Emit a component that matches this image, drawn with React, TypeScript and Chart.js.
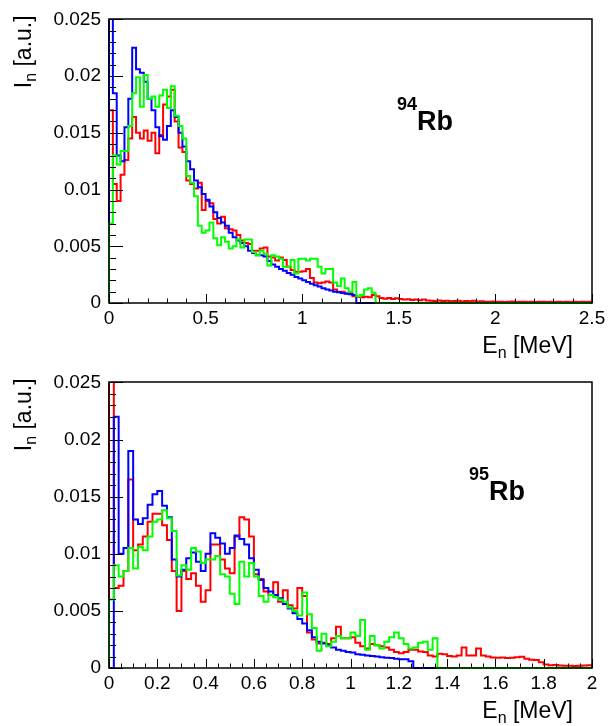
import React, { useEffect, useRef } from "react";
import { Chart, registerables } from "chart.js";

Chart.register(...registerables);

// ---------- data (intensities in units of 1e-3 a.u., histogram bins of 0.02 MeV) ----------
const VALUE_UNIT = 0.001;
const BIN_WIDTH = 0.02;

// 94Rb panel
const rb94Red = [
  17, 10.5, 9, 11.3, 12.6, 14.5, 16.4, 15, 14.5, 15.2, 14.3, 15, 13.2, 14.8, 17.5, 18.2, 18.8, 16, 13.7, 13.3,
  10.8, 10.5, 10.1, 10.6, 8.2, 9, 8.8, 7.4, 7.0, 7.6, 6.6,
  6.5, 6.4, 6.0, 5.5, 5.3, 5.2, 4.6, 4.6, 4.8, 4.9, 4.1, 4.0, 3.75, 4.0, 3.8, 3.2, 2.9, 2.75, 2.75, 2.8,
  3.0, 2.2, 1.8, 1.75, 1.8, 1.9, 1.8, 1.2, 1.0, 1.0, 0.85, 0.85, 0.6, 0.55, 0.5, 0.55, 0.5, 0.7, 0.6,
  0.45, 0.38, 0.45, 0.35, 0.42, 0.36,
  0.3, 0.33, 0.27, 0.3, 0.24, 0.3, 0.22,
  0.2, 0.18, 0.22, 0.17, 0.2, 0.15, 0.18, 0.2, 0.14, 0.17, 0.15, 0.2, 0.13, 0.15,
  0.12, 0.1, 0.14, 0.1, 0.12, 0.09, 0.11, 0.13, 0.08, 0.1, 0.12, 0.09, 0.1, 0.08, 0.11, 0.1, 0.09, 0.12,
  0.08, 0.1, 0.09, 0.11, 0.08, 0.1, 0.09, 0.1, 0.08, 0.1,
];
const rb94Blue = [
  26, 18.5, 13, 12.5, 15.5, 18, 22.5, 20.6, 20.3, 19.5,
  18, 17, 15.5, 14.7, 14.4, 15.6, 17, 16.4, 15, 13.8,
  12.5, 11.8, 10.8, 10.2, 9.6, 9.1, 8.5, 8.0, 7.5, 7.1,
  6.8, 6.2, 5.8, 5.5, 5.3, 5.0, 4.6, 4.4, 4.2, 4.2,
  4.1, 3.7, 3.4, 3.2, 3.0, 2.85, 2.65, 2.5, 2.3, 2.15,
  2.0, 1.85, 1.7, 1.57, 1.45, 1.3, 1.2, 1.1, 1.0, 0.95,
  0.88, 0.82, 0.78, 0.7,
];
const rb94Green = [
  7, 13, 12.2, 13.4, 13.4, 15.6, 18.5, 19.9, 17.3, 20.1,
  18, 18.2, 17.3, 18.3, 18.8, 17.2, 19.1, 16.5, 15.6, 14.5,
  11.2, 10.6, 9.4, 6.8, 6.2, 6.4, 7.1, 5.7, 5.1, 5.8,
  5.4, 4.8, 5.0, 5.6, 4.9, 5.6, 5.6, 4.5, 4.2, 4.6,
  4.35, 3.3, 4.2, 4.1, 3.9, 3.2, 3.2, 3.8, 2.6, 3.9,
  3.9, 3.75, 3.9, 3.9, 3.2, 2.6, 3.0, 3.0, 1.8, 1.5,
  2.15, 1.3, 1.0, 1.85, 0.6, 0.7, 1.2, 1.3, 0.9,
];

// 95Rb panel
const rb95Red = [
  26, 7, 7.2, 8.5, 16.5, 10.3, 10.8, 11.5, 12.8, 13.5, 13.5, 12.5, 11.2, 8.5, 5.0, 8.5, 7.8, 8.3, 7.2, 5.8,
  6.8, 10.8, 10.8, 9.5,
  8.7, 8.3, 11.5, 13.2, 13, 11.5, 8.2, 7.8, 6.7, 6.4, 7.5, 5.8, 6.8, 5.5, 5.2, 7.0, 6.3, 3.1, 2.5, 2.15,
  2.2, 2.1, 2.6, 3.6, 2.6, 2.6, 2.7, 2.2, 1.9, 1.7,
  2.1, 2.0, 1.9, 1.8, 1.6, 1.4, 1.3, 1.4, 1.6, 1.6, 1.45, 1.4, 1.1, 1.0, 1.25, 1.2, 1.05, 1.0, 1.1, 1.8,
  1.1, 1.1, 1.7, 1.1, 1.0, 0.93, 0.9, 0.92, 0.88, 0.9, 0.95, 0.99, 0.8, 0.72, 0.7, 0.5, 0.3, 0.25, 0.26, 0.22,
  0.2, 0.2, 0.18, 0.2, 0.22, 0.25,
];
const rb95Blue = [
  0, 22, 10, 10.5, 19, 13, 12.6, 13.1, 14.3, 15.2,
  15.5, 14.2, 13.2, 9.5, 8.0, 8.6, 9.6, 10.1, 9.3, 8.5,
  10, 11.8, 11.4, 10.9, 10.0, 10.5, 11.6, 11.3, 10.8, 9.6,
  8.6, 7.7, 7.0, 6.7, 6.4, 6.1, 5.6, 5.2, 4.8, 4.3,
  3.9, 3.3, 2.7, 2.3, 2.15, 2.0, 1.8, 1.6, 1.5, 1.4,
  1.35, 1.2, 1.15, 1.1, 1.05, 1.0, 0.95, 0.9, 0.88, 0.8,
  0.76, 0.76, 0.6,
];
const rb95Green = [
  6, 9.0, 8.0, 8.5, 10.5, 8.7, 10.6, 10.3, 11.5, 12.8,
  13, 13.8, 13.1, 12.0, 8.1, 9.0, 8.6, 10.5, 10.2, 9.2,
  9.5, 9.5, 9.8, 8.2, 8.0, 6.5, 5.6, 9.3, 8.0, 9.2,
  8.0, 6.3, 5.8, 6.4, 6.2, 6.0, 5.8, 5.3, 5.0, 4.6,
  6.6, 4.7, 3.5, 1.5, 3.0, 1.9, 2.3, 2.8, 2.6, 2.6,
  3.1, 2.8, 4.2, 1.6, 2.8, 2.0, 1.7, 2.3, 2.7, 3.1,
  2.6, 2.1, 1.7, 1.8, 2.2, 2.3, 1.6, 2.6,
];

// axes
const yMax = 0.025;
const yMajorStep = 0.005;
const yMinorStep = 0.001;
const topXMax = 2.5;
const topXMajorStep = 0.5;
const topXMinorStep = 0.1;
const botXMax = 2;
const botXMajorStep = 0.2;
const botXMinorStep = 0.05;

const xTitle = ["E", "n", " [MeV]"];
const yTitle = ["I", "n", " [a.u.]"];
const topNucleus = ["94", "Rb"];
const botNucleus = ["95", "Rb"];

const FONT = '"Liberation Sans", Arial, Helvetica, sans-serif';

function histPoints(vals: number[], bw: number, xmax: number) {
  const pts: { x: number; y: number }[] = [{ x: 0, y: 0 }];
  vals.forEach((v, i) => pts.push({ x: i * bw, y: v * VALUE_UNIT }));
  const end = vals.length * bw;
  pts.push({ x: end, y: 0 });
  if (end < xmax - 1e-9) pts.push({ x: xmax, y: 0 });
  return pts;
}

type Part = { t: string; size: number; dy: number; bold?: boolean };

function drawParts(ctx: CanvasRenderingContext2D, parts: Part[], x: number, y: number) {
  let cx = x;
  for (const p of parts) {
    ctx.font = `${p.bold ? "bold " : ""}${p.size}px ${FONT}`;
    ctx.fillText(p.t, cx, y + p.dy);
    cx += ctx.measureText(p.t).width;
  }
  return cx - x;
}
function partsWidth(ctx: CanvasRenderingContext2D, parts: Part[]) {
  let w = 0;
  for (const p of parts) {
    ctx.font = `${p.bold ? "bold " : ""}${p.size}px ${FONT}`;
    w += ctx.measureText(p.t).width;
  }
  return w;
}

type PanelCfg = {
  red: number[];
  blue: number[];
  green: number[];
  xMax: number;
  xMajor: number;
  xMinor: number;
  padTop: number;
  xAxisHeight: number;
  nucleus: string[];
  nucX: number;
  nucBase: number;
};

function Panel({ cfg }: { cfg: PanelCfg }) {
  const ref = useRef<HTMLCanvasElement | null>(null);
  useEffect(() => {
    const canvas = ref.current;
    if (!canvas) return;
    const fmt = (v: any) => String(parseFloat(Number(v).toFixed(4)));
    const decor = {
      id: "rootDecor",
      afterDraw(chart: any) {
        const { ctx, chartArea: a, scales } = chart;
        const xs = scales.x;
        const ys = scales.y;
        ctx.save();
        ctx.strokeStyle = "#000";
        ctx.lineWidth = 1;
        ctx.beginPath();
        const nY = Math.round(yMax / yMinorStep);
        const yEvery = Math.round(yMajorStep / yMinorStep);
        for (let k = 0; k <= nY; k++) {
          const py = Math.round(ys.getPixelForValue(k * yMinorStep)) + 0.5;
          const len = k % yEvery === 0 ? 14 : 7;
          ctx.moveTo(a.left, py);
          ctx.lineTo(a.left + len, py);
        }
        const nX = Math.round(cfg.xMax / cfg.xMinor);
        const xEvery = Math.round(cfg.xMajor / cfg.xMinor);
        for (let k = 0; k <= nX; k++) {
          const px = Math.round(xs.getPixelForValue(k * cfg.xMinor)) + 0.5;
          const len = k % xEvery === 0 ? 9 : 4.5;
          ctx.moveTo(px, a.bottom);
          ctx.lineTo(px, a.bottom - len);
        }
        ctx.stroke();
        ctx.lineWidth = 1.5;
        ctx.strokeRect(Math.round(a.left), Math.round(a.top), Math.round(a.right - a.left), Math.round(a.bottom - a.top));

        ctx.fillStyle = "#000";
        ctx.textBaseline = "alphabetic";
        ctx.textAlign = "left";
        // x title
        const xp: Part[] = [
          { t: xTitle[0], size: 23, dy: 0 },
          { t: xTitle[1], size: 16, dy: 5 },
          { t: xTitle[2], size: 23, dy: 0 },
        ];
        const xw = partsWidth(ctx, xp);
        drawParts(ctx, xp, a.right - 19 - xw, a.bottom + 50);
        // y title (rotated)
        const yp: Part[] = [
          { t: yTitle[0], size: 23, dy: 0 },
          { t: yTitle[1], size: 16, dy: 5 },
          { t: yTitle[2], size: 23, dy: 0 },
        ];
        const yw = partsWidth(ctx, yp);
        ctx.save();
        ctx.translate(31, a.top - 4);
        ctx.rotate(-Math.PI / 2);
        drawParts(ctx, yp, -yw, 0);
        ctx.restore();
        // nucleus label
        const np: Part[] = [
          { t: cfg.nucleus[0], size: 18, dy: -20, bold: true },
          { t: cfg.nucleus[1], size: 27, dy: 0, bold: true },
        ];
        drawParts(ctx, np, cfg.nucX, cfg.nucBase);
        ctx.restore();
      },
    };
    const common = {
      borderWidth: 2,
      pointRadius: 0,
      stepped: "before" as const,
      fill: false,
      tension: 0,
      clip: { left: 3, top: 0, right: 3, bottom: 3 },
    };
    const chart = new Chart(canvas, {
      type: "line",
      data: {
        datasets: [
          { ...common, label: "green", data: histPoints(cfg.green, BIN_WIDTH, cfg.xMax), borderColor: "#00ff00", order: 0 },
          { ...common, label: "blue", data: histPoints(cfg.blue, BIN_WIDTH, cfg.xMax), borderColor: "#0000ff", order: 1 },
          { ...common, label: "red", data: histPoints(cfg.red, BIN_WIDTH, cfg.xMax), borderColor: "#ff0000", order: 2 },
        ],
      },
      options: {
        animation: false,
        responsive: false,
        devicePixelRatio: 1,
        layout: { padding: { top: cfg.padTop, right: 21, left: 0, bottom: 0 } },
        plugins: { legend: { display: false }, tooltip: { enabled: false } },
        scales: {
          x: {
            type: "linear",
            min: 0,
            max: cfg.xMax,
            grid: { display: false, drawTicks: false },
            border: { display: false },
            ticks: {
              stepSize: cfg.xMajor,
              autoSkip: false,
              maxRotation: 0,
              padding: 4,
              color: "#000",
              font: { family: FONT, size: 19 },
              callback: fmt,
            },
            afterFit: (s: any) => {
              s.height = cfg.xAxisHeight;
            },
          },
          y: {
            type: "linear",
            min: 0,
            max: yMax,
            grid: { display: false, drawTicks: false },
            border: { display: false },
            ticks: {
              stepSize: yMajorStep,
              padding: 8,
              color: "#000",
              font: { family: FONT, size: 19 },
              callback: fmt,
            },
            afterFit: (s: any) => {
              s.width = 109;
            },
          },
        },
      } as any,
      plugins: [decor],
    });
    return () => chart.destroy();
  }, [cfg]);
  return <canvas ref={ref} width={613} height={363} style={{ display: "block" }} />;
}

const topCfg: PanelCfg = {
  red: rb94Red,
  blue: rb94Blue,
  green: rb94Green,
  xMax: topXMax,
  xMajor: topXMajorStep,
  xMinor: topXMinorStep,
  padTop: 17,
  xAxisHeight: 60,
  nucleus: topNucleus,
  nucX: 397,
  nucBase: 130,
};
const botCfg: PanelCfg = {
  red: rb95Red,
  blue: rb95Blue,
  green: rb95Green,
  xMax: botXMax,
  xMajor: botXMajorStep,
  xMinor: botXMinorStep,
  padTop: 19,
  xAxisHeight: 58,
  nucleus: botNucleus,
  nucX: 469,
  nucBase: 137,
};

export default function App() {
  return (
    <div style={{ position: "absolute", left: 0, top: 0, width: 613, height: 726, background: "#fff" }}>
      <Panel cfg={topCfg} />
      <Panel cfg={botCfg} />
    </div>
  );
}
